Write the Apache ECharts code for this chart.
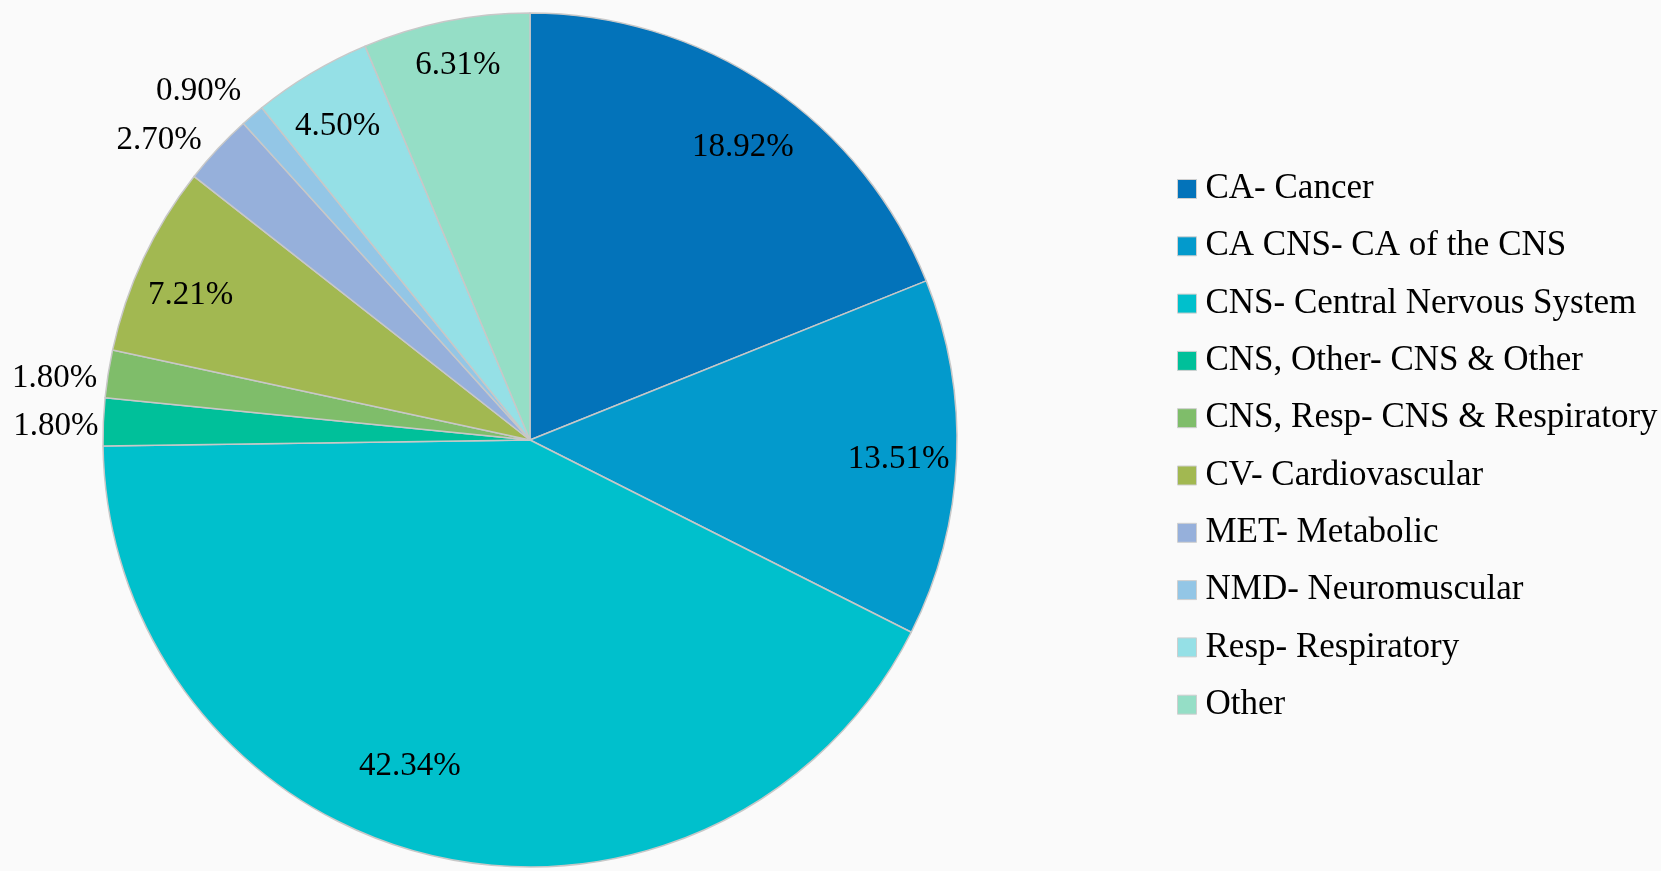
<!DOCTYPE html>
<html>
<head>
<meta charset="utf-8">
<script src="https://cdn.jsdelivr.net/npm/echarts@6/dist/echarts.min.js"></script>
<style>
  html, body { margin: 0; padding: 0; background: #fafafa; }
  #chart { width: 1661px; height: 871px; }
</style>
</head>
<body>
<div id="chart"></div>
<script>
// categories, clockwise from 12 o'clock
const categories = [
  'CA- Cancer',
  'CA CNS- CA of the CNS',
  'CNS- Central Nervous System',
  'CNS, Other- CNS & Other',
  'CNS, Resp- CNS & Respiratory',
  'CV- Cardiovascular',
  'MET- Metabolic',
  'NMD- Neuromuscular',
  'Resp- Respiratory',
  'Other'
]
const shares = [18.92, 13.51, 42.34, 1.80, 1.80, 7.21, 2.70, 0.90, 4.50, 6.31] // percent
const colors = ['#0373ba', '#039acc', '#00c0cc', '#00c09a', '#7fbd6a', '#a2b851', '#96b0db', '#93c6e6', '#95e0e6', '#95dec6']
// small slices get their label outside the pie
const outsideNames = ['CNS, Other- CNS & Other', 'CNS, Resp- CNS & Respiratory', 'MET- Metabolic', 'NMD- Neuromuscular']

const FONT = '"Liberation Serif", "DejaVu Serif", serif'
const CX = 530
const CY = 440
const R = 427

const chart = echarts.init(document.getElementById('chart'))

// per-label tweaks so the labels sit where the reference puts them
const labelTweaks = {
  'CA- Cancer': { offset: [8, 11] },
  'CA CNS- CA of the CNS': { offset: [3, 4] },
  'CNS- Central Nervous System': { offset: [-38, -30] },
  'CV- Cardiovascular': { offset: [-8, 11] },
  'Resp- Respiratory': { offset: [-5, 1] },
  'Other': { offset: [0, -16] },
  'CNS, Other- CNS & Other': { line: 0, offset: [0, 5] },
  'CNS, Resp- CNS & Respiratory': { line: 0, offset: [-6, 5] },
  'MET- Metabolic': { line: 15, offset: [0, 2] },
  'NMD- Neuromuscular': { line: 34, offset: [16, 2] }
}

const pieData = categories.map((name, i) => ({
  name: name,
  value: shares[i],
  itemStyle: { color: colors[i] }
}))

const labelData = categories.map((name, i) => {
  const t = labelTweaks[name] || {}
  const item = { name: name, value: shares[i] }
  if (outsideNames.indexOf(name) >= 0) {
    item.label = { position: 'outside', offset: t.offset || [0, 0] }
    item.labelLine = { show: false, length: t.line || 0, length2: 0 }
  } else {
    item.label = { position: 'inside', offset: t.offset || [0, 0] }
  }
  return item
})

chart.setOption({
  backgroundColor: '#fafafa',
  animation: false,
  legend: {
    orient: 'vertical',
    left: 1172,
    top: 165,
    icon: 'rect',
    itemWidth: 19,
    itemHeight: 19,
    itemGap: 19.3,
    data: categories,
    itemStyle: { borderColor: '#cfcfcf', borderWidth: 1 },
    textStyle: {
      fontFamily: FONT,
      fontSize: 35,
      lineHeight: 38,
      padding: [0, 0, 0, 4],
      color: '#000'
    }
  },
  series: [
    {
      type: 'pie',
      center: [CX, CY],
      radius: [0, R],
      startAngle: 90,
      clockwise: true,
      label: { show: false },
      labelLine: { show: false },
      itemStyle: { borderColor: '#c8c8c8', borderWidth: 1.5 },
      emphasis: { disabled: true },
      data: pieData
    },
    {
      // label carrier: transparent ring so inside labels sit near 0.85R
      type: 'pie',
      center: [CX, CY],
      radius: [R * 0.7, R],
      startAngle: 90,
      clockwise: true,
      silent: true,
      avoidLabelOverlap: false,
      z: 5,
      itemStyle: { color: 'transparent', borderWidth: 0 },
      label: {
        show: true,
        fontFamily: FONT,
        fontSize: 33,
        color: '#000',
        formatter: p => p.value.toFixed(2) + '%'
      },
      emphasis: { disabled: true },
      data: labelData
    }
  ]
})
</script>
</body>
</html>
